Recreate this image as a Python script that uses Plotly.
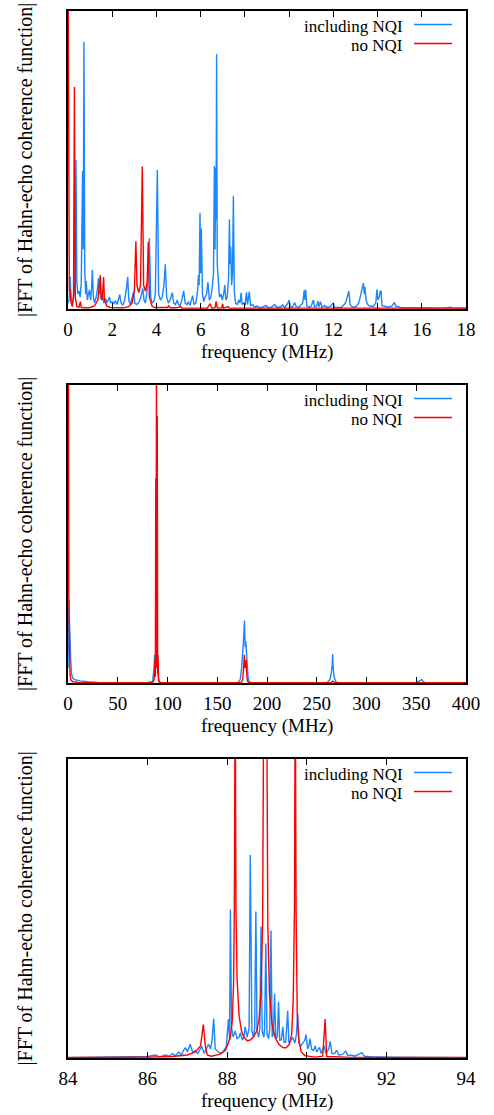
import plotly.graph_objects as go

# ---------------- data ----------------
# panel 1: 0-18 MHz
P1_BLUE = [
    (0.00, 0.02), (0.05, 0.03), (0.10, 0.108), (0.14, 0.03), (0.20, 0.02), (0.26, 0.04), (0.32, 0.09),
    (0.36, 0.50), (0.40, 0.09), (0.45, 0.05), (0.50, 0.06), (0.55, 0.04), (0.60, 0.09), (0.66, 0.463),
    (0.69, 0.20), (0.72, 0.897), (0.76, 0.12), (0.80, 0.05), (0.83, 0.094), (0.87, 0.03), (0.92, 0.05),
    (0.97, 0.064), (1.02, 0.03), (1.06, 0.06), (1.10, 0.132), (1.15, 0.04), (1.20, 0.02), (1.26, 0.035),
    (1.32, 0.06), (1.38, 0.104), (1.42, 0.05), (1.46, 0.09), (1.50, 0.03), (1.56, 0.045), (1.62, 0.02),
    (1.70, 0.035), (1.76, 0.02), (1.82, 0.03), (1.88, 0.04), (1.93, 0.02), (2.00, 0.025), (2.08, 0.018),
    (2.15, 0.028), (2.22, 0.015), (2.30, 0.035), (2.34, 0.048), (2.40, 0.02), (2.48, 0.012), (2.56, 0.03),
    (2.63, 0.06), (2.70, 0.108), (2.75, 0.03), (2.82, 0.015), (2.90, 0.04), (2.97, 0.058), (3.02, 0.02),
    (3.10, 0.015), (3.18, 0.02), (3.25, 0.03), (3.31, 0.045), (3.38, 0.069), (3.44, 0.03), (3.50, 0.02),
    (3.56, 0.05), (3.62, 0.12), (3.68, 0.237), (3.74, 0.04), (3.80, 0.02), (3.88, 0.025), (3.95, 0.05),
    (4.04, 0.466), (4.10, 0.05), (4.18, 0.03), (4.26, 0.04), (4.34, 0.08), (4.40, 0.15), (4.46, 0.04),
    (4.54, 0.02), (4.62, 0.03), (4.72, 0.055), (4.78, 0.02), (4.86, 0.015), (4.94, 0.03), (5.00, 0.015),
    (5.08, 0.012), (5.16, 0.035), (5.23, 0.061), (5.30, 0.02), (5.38, 0.015), (5.45, 0.025), (5.52, 0.012),
    (5.58, 0.03), (5.64, 0.045), (5.70, 0.015), (5.78, 0.02), (5.86, 0.06), (5.90, 0.114), (5.93, 0.08),
    (5.97, 0.323), (6.00, 0.12), (6.03, 0.27), (6.08, 0.05), (6.14, 0.025), (6.20, 0.04), (6.27, 0.05),
    (6.33, 0.09), (6.39, 0.03), (6.46, 0.04), (6.52, 0.07), (6.58, 0.12), (6.62, 0.48), (6.65, 0.20),
    (6.68, 0.474), (6.70, 0.30), (6.72, 0.856), (6.75, 0.15), (6.80, 0.108), (6.85, 0.04), (6.92, 0.05),
    (6.98, 0.03), (7.04, 0.05), (7.09, 0.08), (7.14, 0.03), (7.20, 0.04), (7.26, 0.10), (7.30, 0.30),
    (7.33, 0.15), (7.36, 0.21), (7.40, 0.08), (7.44, 0.12), (7.48, 0.38), (7.52, 0.06), (7.58, 0.02),
    (7.66, 0.015), (7.72, 0.03), (7.78, 0.02), (7.83, 0.054), (7.88, 0.015), (7.95, 0.02), (8.01, 0.012),
    (8.07, 0.056), (8.12, 0.015), (8.20, 0.058), (8.26, 0.01), (8.35, 0.015), (8.45, 0.006), (8.55, 0.01),
    (8.65, 0.005), (8.80, 0.006), (8.95, 0.012), (9.05, 0.005), (9.20, 0.006), (9.35, 0.015), (9.45, 0.006),
    (9.60, 0.006), (9.70, 0.014), (9.80, 0.005), (9.95, 0.02), (10.00, 0.03), (10.05, 0.008), (10.15, 0.006),
    (10.25, 0.022), (10.32, 0.008), (10.45, 0.006), (10.55, 0.015), (10.62, 0.02), (10.68, 0.063),
    (10.72, 0.03), (10.75, 0.065), (10.80, 0.01), (10.90, 0.006), (11.00, 0.01), (11.10, 0.03), (11.15, 0.008),
    (11.25, 0.01), (11.30, 0.026), (11.35, 0.008), (11.42, 0.025), (11.48, 0.006), (11.60, 0.012),
    (11.70, 0.006), (11.85, 0.008), (12.00, 0.02), (12.05, 0.006), (12.20, 0.005), (12.35, 0.006),
    (12.45, 0.012), (12.55, 0.02), (12.65, 0.045), (12.70, 0.06), (12.76, 0.015), (12.85, 0.008),
    (12.95, 0.006), (13.05, 0.01), (13.15, 0.02), (13.22, 0.04), (13.30, 0.06), (13.36, 0.087), (13.40, 0.05),
    (13.43, 0.074), (13.48, 0.03), (13.55, 0.015), (13.65, 0.01), (13.80, 0.008), (13.92, 0.02), (13.97, 0.065),
    (14.02, 0.03), (14.08, 0.04), (14.12, 0.06), (14.16, 0.06), (14.20, 0.012), (14.35, 0.008), (14.50, 0.006),
    (14.65, 0.01), (14.72, 0.02), (14.76, 0.022), (14.82, 0.01), (14.95, 0.008), (15.10, 0.004), (15.30, 0.004),
    (15.60, 0.003), (16.00, 0.004), (16.50, 0.003), (17.00, 0.003), (17.30, 0.006), (17.40, 0.003), (18.00, 0.003),
]
P1_RED = [
    (0.00, 1.20), (0.03, 0.15), (0.06, 0.06), (0.10, 0.065), (0.14, 0.02), (0.20, 0.008), (0.25, 0.05),
    (0.29, 0.745), (0.33, 0.04), (0.40, 0.008), (0.50, 0.006), (0.56, 0.025), (0.60, 0.005), (0.80, 0.004),
    (1.00, 0.005), (1.20, 0.01), (1.35, 0.03), (1.42, 0.08), (1.46, 0.113), (1.50, 0.04), (1.55, 0.03),
    (1.58, 0.07), (1.61, 0.107), (1.65, 0.03), (1.75, 0.01), (1.90, 0.005), (2.20, 0.004), (2.50, 0.004),
    (2.75, 0.008), (2.90, 0.02), (3.00, 0.06), (3.07, 0.227), (3.12, 0.08), (3.20, 0.055), (3.28, 0.08),
    (3.36, 0.478), (3.42, 0.08), (3.50, 0.06), (3.58, 0.09), (3.63, 0.225), (3.68, 0.04), (3.80, 0.01),
    (3.90, 0.005), (4.20, 0.004), (4.50, 0.005), (4.56, 0.011), (4.62, 0.004), (4.90, 0.004), (5.10, 0.008),
    (5.15, 0.003), (6.30, 0.003), (6.43, 0.018), (6.50, 0.003), (6.65, 0.004), (6.70, 0.026), (6.75, 0.004),
    (6.95, 0.003), (6.99, 0.018), (7.03, 0.003), (7.24, 0.008), (7.28, 0.003), (18.00, 0.003),
]

# panel 2: 0-400 MHz
P2_BLUE = [
    (0, 0.05), (0.5, 0.15), (1.0, 0.28), (1.5, 0.20), (2.0, 0.10), (2.7, 0.078), (3.5, 0.03), (5, 0.015),
    (8, 0.01), (12, 0.007), (20, 0.004), (30, 0.002), (50, 0.001), (80, 0.001), (85, 0.005), (86.5, 0.05),
    (87.0, 0.095), (87.6, 0.04), (88.2, 0.06), (88.9, 0.07), (89.7, 0.06), (90.5, 0.03), (91, 0.015),
    (92, 0.004), (94, 0.001), (170, 0.001), (173, 0.01), (174.5, 0.05), (175.7, 0.10), (176.5, 0.15),
    (177.4, 0.21), (178.0, 0.12), (178.7, 0.14), (179.3, 0.08), (180, 0.067), (181, 0.02), (182, 0.005),
    (184, 0.001), (260, 0.001), (263, 0.01), (264.5, 0.03), (265.5, 0.06), (266.0, 0.097), (266.5, 0.05),
    (267.5, 0.02), (269, 0.005), (271, 0.001), (350, 0.001), (353, 0.006), (355.5, 0.011), (357, 0.006),
    (359, 0.001), (400, 0.001),
]
P2_RED = [
    (0, 0.30), (0.4, 1.20), (0.8, 0.30), (1.3, 0.12), (2.0, 0.03), (3.0, 0.01), (5, 0.004), (10, 0.002),
    (20, 0.001), (85, 0.001), (86.5, 0.01), (87.4, 0.078), (87.8, 0.02), (88.2, 0.687), (88.55, 0.05),
    (88.9, 1.20), (89.3, 0.05), (89.7, 0.896), (90.1, 0.03), (90.5, 0.095), (91, 0.01), (92, 0.001),
    (174, 0.001), (175.5, 0.01), (176.5, 0.05), (177.2, 0.095), (177.8, 0.05), (178.5, 0.06), (179.0, 0.078),
    (179.6, 0.03), (180.5, 0.005), (182, 0.001), (264, 0.001), (266, 0.006), (268, 0.001), (400, 0.001),
]

# panel 3: 84-94 MHz
P3_BLUE = [
    (84.0, 0.001), (85.0, 0.002), (85.4, 0.004), (85.8, 0.003), (86.0, 0.005), (86.2, 0.01), (86.3, 0.004),
    (86.45, 0.01), (86.55, 0.006), (86.62, 0.015), (86.7, 0.008), (86.78, 0.02), (86.85, 0.01), (86.9, 0.025),
    (86.95, 0.035), (87.0, 0.02), (87.07, 0.046), (87.13, 0.02), (87.2, 0.025), (87.26, 0.015), (87.31, 0.03),
    (87.36, 0.039), (87.42, 0.015), (87.48, 0.03), (87.53, 0.046), (87.58, 0.03), (87.62, 0.06), (87.66, 0.132),
    (87.7, 0.03), (87.78, 0.02), (87.85, 0.015), (87.92, 0.025), (87.98, 0.04), (88.03, 0.13), (88.06, 0.06),
    (88.08, 0.497), (88.11, 0.10), (88.15, 0.07), (88.2, 0.09), (88.25, 0.065), (88.3, 0.07), (88.33, 0.085),
    (88.38, 0.06), (88.42, 0.07), (88.45, 0.104), (88.5, 0.07), (88.55, 0.10), (88.58, 0.679), (88.62, 0.09),
    (88.66, 0.07), (88.69, 0.10), (88.72, 0.49), (88.75, 0.09), (88.79, 0.07), (88.82, 0.10), (88.85, 0.44),
    (88.88, 0.09), (88.92, 0.07), (88.94, 0.10), (88.97, 0.383), (89.0, 0.08), (89.04, 0.065), (89.07, 0.10),
    (89.1, 0.426), (89.13, 0.07), (89.16, 0.08), (89.19, 0.216), (89.22, 0.065), (89.26, 0.07), (89.29, 0.188),
    (89.32, 0.06), (89.36, 0.06), (89.4, 0.104), (89.43, 0.05), (89.47, 0.055), (89.52, 0.158), (89.55, 0.05),
    (89.6, 0.06), (89.65, 0.068), (89.7, 0.05), (89.74, 0.08), (89.77, 0.149), (89.8, 0.05), (89.85, 0.04),
    (89.9, 0.05), (89.95, 0.06), (89.98, 0.078), (90.02, 0.03), (90.05, 0.04), (90.08, 0.065), (90.12, 0.03),
    (90.17, 0.025), (90.21, 0.04), (90.25, 0.02), (90.29, 0.03), (90.32, 0.035), (90.36, 0.015), (90.4, 0.03),
    (90.44, 0.04), (90.48, 0.015), (90.55, 0.03), (90.59, 0.056), (90.63, 0.015), (90.7, 0.015), (90.75, 0.026),
    (90.8, 0.01), (90.9, 0.012), (90.98, 0.023), (91.03, 0.008), (91.12, 0.01), (91.2, 0.006), (91.3, 0.012),
    (91.38, 0.018), (91.45, 0.006), (91.6, 0.004), (92.0, 0.003), (92.5, 0.002), (93.0, 0.001), (94.0, 0.001),
]
P3_RED = [
    (84.0, 0.002), (85.0, 0.002), (86.0, 0.003), (86.6, 0.005), (87.0, 0.01), (87.2, 0.02), (87.33, 0.04),
    (87.40, 0.112), (87.45, 0.04), (87.5, 0.01), (87.6, 0.006), (87.8, 0.012), (87.95, 0.025), (88.0, 0.04),
    (88.08, 0.07), (88.13, 0.13), (88.16, 0.25), (88.18, 0.5), (88.2, 1.3), (88.22, 0.5), (88.25, 0.26),
    (88.3, 0.14), (88.36, 0.09), (88.42, 0.07), (88.5, 0.058), (88.58, 0.06), (88.66, 0.07), (88.74, 0.09),
    (88.8, 0.13), (88.85, 0.22), (88.89, 0.45), (88.92, 1.3), (88.99, 1.3), (89.02, 0.45), (89.06, 0.22),
    (89.12, 0.12), (89.2, 0.07), (89.3, 0.045), (89.4, 0.035), (89.48, 0.034), (89.56, 0.045), (89.62, 0.08),
    (89.66, 0.2), (89.69, 0.5), (89.71, 1.3), (89.73, 0.5), (89.76, 0.15), (89.8, 0.06), (89.86, 0.02),
    (89.95, 0.008), (90.2, 0.003), (90.4, 0.006), (90.46, 0.13), (90.5, 0.005), (91.0, 0.003), (92.0, 0.002),
    (94.0, 0.002),
]

X_RANGES = [(0, 18), (0, 400), (84, 94)]
X_TICKS = [list(range(0, 19, 2)), list(range(0, 401, 50)), list(range(84, 95, 2))]
SERIES_NAMES = ["including NQI", "no NQI"]
X_TITLE = "frequency (MHz)"
Y_TITLE = "|FFT of Hahn-echo coherence function|"

BLUE = "#1a86ff"
RED = "#ff0000"
FONT = "Liberation Serif, Times New Roman, Times, DejaVu Serif, serif"

W, H = 494, 1115
PLOT_L, PLOT_R = 68, 466
PANELS_PX = [(11, 309), (385, 683), (759, 1058)]  # top, bottom in px

data = [(P1_BLUE, P1_RED), (P2_BLUE, P2_RED), (P3_BLUE, P3_RED)]

fig = go.Figure()
layout = dict(
    width=W, height=H, margin=dict(l=0, r=0, t=0, b=0, autoexpand=False),
    paper_bgcolor="white", plot_bgcolor="white", showlegend=False,
    font=dict(family=FONT, color="black", size=19),
)
annotations = []
shapes = []
for i, ((blue, red), (top, bot)) in enumerate(zip(data, PANELS_PX)):
    n = "" if i == 0 else str(i + 1)
    xa, ya = "x" + n, "y" + n
    fig.add_trace(go.Scatter(x=[p[0] for p in blue], y=[p[1] for p in blue], mode="lines",
                             line=dict(color=BLUE, width=1.4), xaxis=xa, yaxis=ya, name=SERIES_NAMES[0]))
    fig.add_trace(go.Scatter(x=[p[0] for p in red], y=[p[1] for p in red], mode="lines",
                             line=dict(color=RED, width=1.4), xaxis=xa, yaxis=ya, name=SERIES_NAMES[1]))
    layout["xaxis" + n] = dict(
        domain=[PLOT_L / W, PLOT_R / W], range=list(X_RANGES[i]), anchor=ya, automargin=False,
        tickvals=X_TICKS[i], ticks="inside", ticklen=6, tickwidth=1, tickcolor="black",
        showline=True, linecolor="black", linewidth=1.5, mirror="ticks",
        showgrid=False, zeroline=False, tickfont=dict(family=FONT, size=19, color="black"),
        ticklabelstandoff=2,
    )
    layout["yaxis" + n] = dict(
        domain=[(H - bot) / H, (H - top) / H], range=[0, 1], anchor=xa, automargin=False,
        showticklabels=False, ticks="", showline=True, linecolor="black", linewidth=1.5,
        mirror=True, showgrid=False, zeroline=False,
    )
    xd, yd = xa + " domain", ya + " domain"
    annotations.append(dict(text=X_TITLE, xref=xd, yref=yd, x=0.5, y=0, yshift=-43,
                            xanchor="center", yanchor="middle", showarrow=False,
                            font=dict(family=FONT, size=19, color="black")))
    annotations.append(dict(text=Y_TITLE, xref="paper", yref=yd, x=25 / W, y=0.5,
                            xanchor="center", yanchor="middle", textangle=-90, showarrow=False,
                            font=dict(family=FONT, size=20, color="black")))
    for j, (name, col) in enumerate(zip(SERIES_NAMES, [BLUE, RED])):
        ly = 1 - (13.5 + 19 * j) / (bot - top)
        annotations.append(dict(text=name, xref=xd, yref=yd, x=337 / 398, y=ly, yshift=-2,
                                xanchor="right", yanchor="middle", showarrow=False,
                                font=dict(family=FONT, size=17, color="black")))
        shapes.append(dict(type="line", xref=xd, yref=yd, x0=346 / 398, x1=384 / 398, y0=ly, y1=ly,
                           line=dict(color=col, width=1.4)))

layout["annotations"] = annotations
layout["shapes"] = shapes
fig.update_layout(**layout)
fig.write_html("out.html")
